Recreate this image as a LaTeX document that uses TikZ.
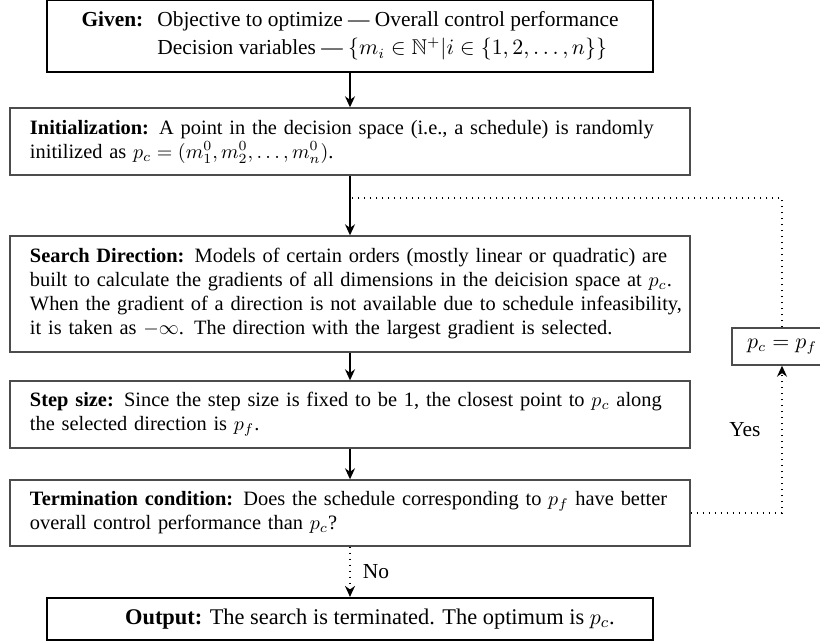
\documentclass[tikz,border=0pt]{standalone}
\usepackage{amsmath,amssymb}
\usepackage[no-math]{fontspec}
\setmainfont{Liberation Serif}
\usetikzlibrary{arrows.meta}

% one unbreakable line of a stage description
\newcommand{\stageline}[1]{\mbox{#1}}

\tikzset{
  stagebox/.style={draw=black!70, line width=0.7pt, text width=320pt,
    inner xsep=10pt, inner ysep=0pt, align=left, font=\fontsize{10.2}{12}\selectfont},
  endbox/.style={draw=black, line width=1.1pt, minimum width=303pt,
    inner sep=0pt, align=center, font=\fontsize{10.7}{12}\selectfont},
  smallbox/.style={draw=black!70, line width=0.7pt, minimum width=50pt,
    minimum height=18.5pt, inner sep=0pt, font=\fontsize{10.7}{12}\selectfont},
  flow/.style={line width=0.8pt, -{Stealth[length=5.5pt,width=5pt]}},
  dotline/.style={line width=0.8pt, dash pattern=on 0.8pt off 2.2pt},
  lbl/.style={font=\fontsize{10.7}{12}\selectfont, inner sep=0pt}
}

\begin{document}
\begin{tikzpicture}[x=0.5pt,y=-0.5pt]
  \useasboundingbox (0,0) rectangle (820,643);
  \clip (0,0) rectangle (820,643);

  % stages of the search
  \node[endbox, minimum height=36pt] (given) at (350,36)
    {\begin{tabular}{@{}l@{\hspace{7pt}}l@{}}
      \textbf{Given:} & Objective to optimize --- Overall control performance\\[2pt]
                      & Decision variables --- $\{m_i \in \mathbb{N}^{+} | i \in \{1,2,\ldots,n\}\}$
     \end{tabular}};

  \node[stagebox, minimum height=33.5pt] (init) at (350,141.5)
    {\stageline{\textbf{Initialization:} A point in the decision space (i.e., a schedule) is randomly}\\
     \stageline{initilized as $p_c = (m_1^0, m_2^0, \ldots, m_n^0)$.}};

  \node[stagebox, minimum height=58pt] (search) at (350,294)
    {\stageline{\textbf{Search Direction:} Models of certain orders (mostly linear or quadratic) are}\\
     \stageline{built to calculate the gradients of all dimensions in the deicision space at $p_c$.}\\
     \stageline{When the gradient of a direction is not available due to schedule infeasibility,}\\
     \stageline{it is taken as $-\infty$. The direction with the largest gradient is selected.}};

  \node[stagebox, minimum height=33.5pt] (step) at (350,414.5)
    {\stageline{\textbf{Step size:} Since the step size is fixed to be 1, the closest point to $p_c$ along}\\
     \stageline{the selected direction is $p_f$.}};

  \node[stagebox, minimum height=33pt] (term) at (350,513)
    {\stageline{\textbf{Termination condition:} Does the schedule corresponding to $p_f$ have better}\\
     \stageline{overall control performance than $p_c$?}};

  \node[endbox, minimum height=21pt, font=\fontsize{11.2}{12}\selectfont] (out) at (350,619)
    {\hspace*{20pt}\textbf{Output:} The search is terminated. The optimum is $p_c$.};

  \node[smallbox] (upd) at (782,346.5) {$p_c = p_f$};

  % main flow
  \coordinate (loop) at (350,198);
  \draw[flow] (given) -- (init);
  \draw[flow] (init) -- (search);
  \draw[flow] (search) -- (step);
  \draw[flow] (step) -- (term);
  \draw[dotline, -{Stealth[length=5.5pt,width=5pt]}] (term) -- node[lbl, right=6pt] (no) {No} (out);

  % update loop
  \coordinate (turn) at (782,513);
  \draw[dotline, -{Stealth[length=5.5pt,width=5pt]}] (term.east) -- (turn) -- (upd.south);
  \node[lbl] (yes) at (745,430) {Yes};
  \draw[dotline] (upd.north) |- (loop);
\end{tikzpicture}
\end{document}
